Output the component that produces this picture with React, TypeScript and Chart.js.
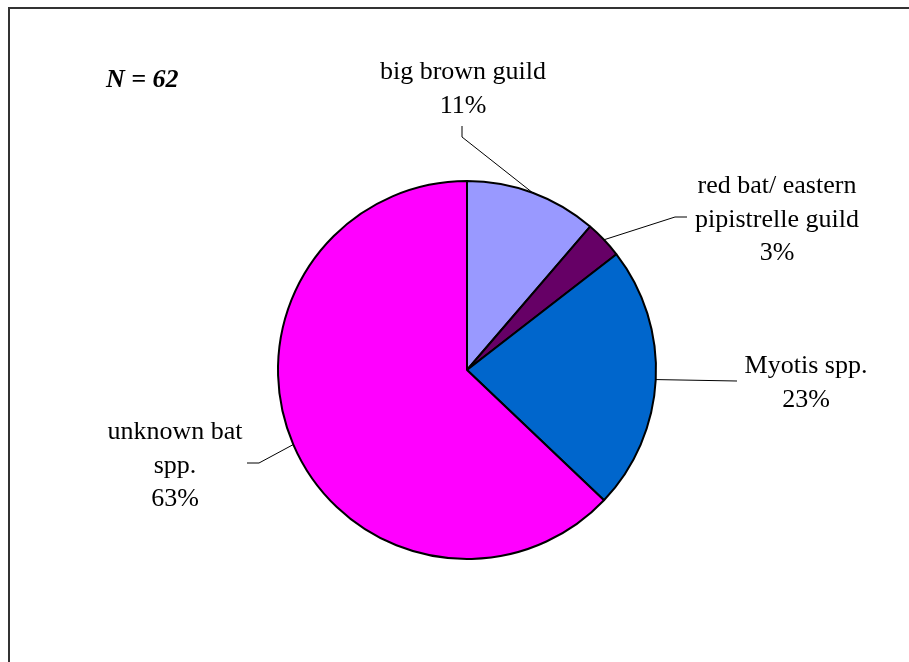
import React, { useEffect, useRef } from "react";
import { Chart, registerables } from "chart.js";

Chart.register(...registerables);

const categories = ["big brown guild", "red bat/ eastern pipistrelle guild", "Myotis spp.", "unknown bat spp."];
const labelLines = [["big brown guild"], ["red bat/ eastern", "pipistrelle guild"], ["Myotis spp."], ["unknown bat", "spp."]];
const counts = [7, 2, 14, 39];
const colors = ["#9999FF", "#660066", "#0066CC", "#FF00FF"];
const sampleNote = "N = 62";

// label placement relative to pie centre (px)
const labelLayout = [
  { dx: -4, dy: -291, path: [[-5, -244], [-5, -233]] },
  { dx: 310, dy: -177, path: [[220, -153], [208, -153]] },
  { dx: 339, dy: 3, path: [[270, 11]] },
  { dx: -292, dy: 69, path: [[-220, 93], [-208, 93]] },
];

const FONT = "26px 'Liberation Serif', 'Times New Roman', serif";
const LINE_H = 33.5;

const piePlugin = {
  id: "pieLabels",
  beforeDraw(chart: any) {
    const ctx = chart.ctx;
    ctx.save();
    ctx.fillStyle = "#333333";
    ctx.fillRect(8, 7, chart.width - 8, 2);
    ctx.fillRect(8, 7, 2, chart.height - 7);
    ctx.restore();
  },
  afterDatasetsDraw(chart: any) {
    const ctx = chart.ctx;
    const meta = chart.getDatasetMeta(0);
    const total = counts.reduce((a, b) => a + b, 0);
    ctx.save();
    meta.data.forEach((arc: any, i: number) => {
      const p = arc.getProps(["x", "y", "startAngle", "endAngle", "outerRadius"], true);
      const mid = (p.startAngle + p.endAngle) / 2;
      const ex = p.x + Math.cos(mid) * p.outerRadius;
      const ey = p.y + Math.sin(mid) * p.outerRadius;
      const lay = labelLayout[i];
      ctx.strokeStyle = "#000";
      ctx.lineWidth = 1;
      ctx.beginPath();
      lay.path.forEach((pt, k) => {
        const px = p.x + pt[0];
        const py = p.y + pt[1];
        if (k === 0) ctx.moveTo(px, py);
        else ctx.lineTo(px, py);
      });
      ctx.lineTo(ex, ey);
      ctx.stroke();

      ctx.fillStyle = "#000";
      ctx.font = FONT;
      ctx.textAlign = "center";
      ctx.textBaseline = "alphabetic";
      const lines = [...labelLines[i], Math.round((counts[i] / total) * 100) + "%"];
      lines.forEach((t, k) => {
        ctx.fillText(t, p.x + lay.dx, p.y + lay.dy + k * LINE_H);
      });
    });
    ctx.font = "italic bold 26px 'Liberation Serif', 'Times New Roman', serif";
    ctx.textAlign = "left";
    ctx.fillStyle = "#000";
    ctx.fillText(sampleNote, 106, 87);
    ctx.restore();
  },
};

export default function App() {
  const ref = useRef<HTMLCanvasElement | null>(null);
  useEffect(() => {
    if (!ref.current) return;
    const chart = new Chart(ref.current, {
      type: "pie",
      data: {
        labels: categories,
        datasets: [
          {
            data: counts,
            backgroundColor: colors,
            borderColor: "#000000",
            borderWidth: 2,
          },
        ],
      },
      options: {
        responsive: false,
        animation: false,
        layout: { padding: { left: 277, top: 180, right: 252, bottom: 102 } },
        plugins: { legend: { display: false }, tooltip: { enabled: false } },
        events: [],
      },
      plugins: [piePlugin],
    });
    return () => chart.destroy();
  }, []);
  return (
    <div style={{ position: "absolute", left: 0, top: 0, width: 909, height: 662, background: "#fff" }}>
      <canvas ref={ref} width={909} height={662} style={{ display: "block" }} />
    </div>
  );
}
